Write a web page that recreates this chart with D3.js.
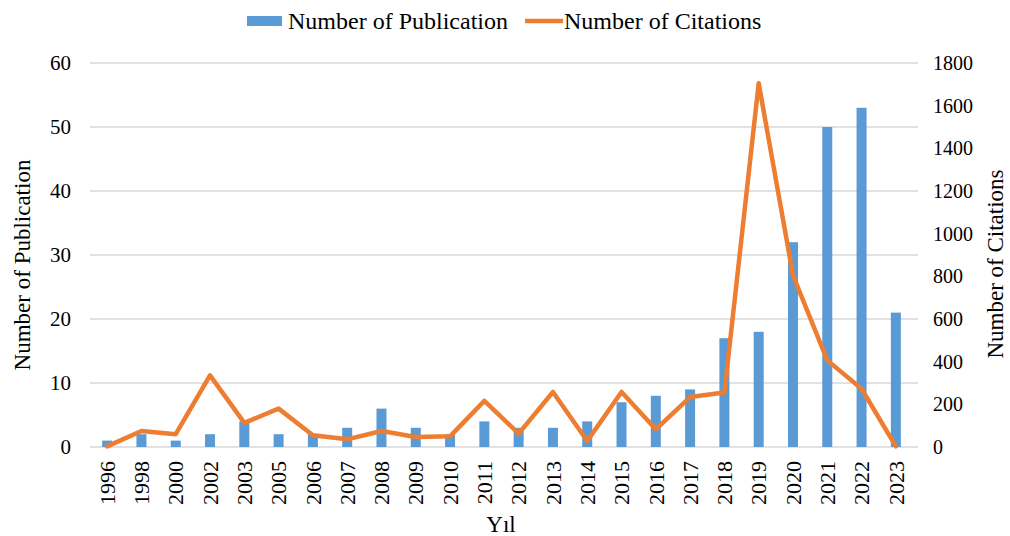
<!DOCTYPE html>
<html><head><meta charset="utf-8">
<script src="https://cdn.jsdelivr.net/npm/d3@7"></script>
<style>body{margin:0;background:#fff}text{font-family:"Liberation Serif","Times New Roman",serif;fill:#000}</style>
</head><body><svg id="c" width="1010" height="536"></svg>
<script>
const years = ["1996","1998","2000","2002","2003","2005","2006","2007","2008","2009","2010","2011","2012","2013","2014","2015","2016","2017","2018","2019","2020","2021","2022","2023"];
const publications = [1,2,1,2,4,2,2,3,6,3,2,4,3,3,4,7,8,9,17,18,32,50,53,21];
const citations = [3,75,60,336,113,180,55,36,75,47,50,216,63,258,28,258,83,234,255,1705,805,406,273,3];
const leftTicks = [0,10,20,30,40,50,60];
const rightTicks = [0,200,400,600,800,1000,1200,1400,1600,1800];

const svg = d3.select("#c");
const L = 90, R = 913, T = 63, B = 447;
const x = d3.scaleBand().domain(years).range([L, R]);
const yL = d3.scaleLinear().domain([0,60]).range([B, T]);
const yR = d3.scaleLinear().domain([0,1800]).range([B, T]);

// gridlines
svg.append("g").selectAll("line").data(leftTicks).join("line")
  .attr("x1", L).attr("x2", R+5).attr("y1", d=>yL(d)).attr("y2", d=>yL(d))
  .attr("stroke", "#d9d9d9").attr("stroke-width", 1.5);

// left axis
const gl = svg.append("g").attr("transform", `translate(${L},0)`)
  .call(d3.axisLeft(yL).tickValues(leftTicks).tickSize(0).tickPadding(19));
gl.select(".domain").remove();
gl.selectAll("text").style("font-size","21px").style("font-family","Liberation Serif");

// right axis
const gr = svg.append("g").attr("transform", `translate(${R},0)`)
  .call(d3.axisRight(yR).tickValues(rightTicks).tickFormat(d3.format("d")).tickSize(0).tickPadding(20));
gr.select(".domain").remove();
gr.selectAll("text").style("font-size","20px").style("font-family","Liberation Serif");

// x axis
const gx = svg.append("g").attr("transform", `translate(0,${B})`)
  .call(d3.axisBottom(x).tickSize(0).tickPadding(0));
gx.select(".domain").remove();
gx.selectAll("text").style("font-size","22px").style("font-family","Liberation Serif")
  .attr("transform","rotate(-90)").attr("text-anchor","end")
  .attr("x",-14).attr("y",0).attr("dy","0.35em");

// bars
const bw = 10;
svg.append("g").selectAll("rect").data(years).join("rect")
  .attr("x", d=>x(d)+x.bandwidth()/2-bw/2).attr("width", bw)
  .attr("y", (d,i)=>yL(publications[i])).attr("height", (d,i)=>B-yL(publications[i]))
  .attr("fill","#5b9bd5");

// line
const line = d3.line().x((d,i)=>x(years[i])+x.bandwidth()/2).y(d=>yR(d));
svg.append("path").datum(citations).attr("d", line)
  .attr("fill","none").attr("stroke","#ed7d31").attr("stroke-width",4.5)
  .attr("stroke-linejoin","round").attr("stroke-linecap","round");

// axis titles
svg.append("text").attr("transform","translate(30,265) rotate(-90)").attr("text-anchor","middle")
  .style("font-size","23px").text("Number of Publication");
svg.append("text").attr("transform","translate(1003,264) rotate(-90)").attr("text-anchor","middle")
  .style("font-size","23px").text("Number of Citations");
svg.append("text").attr("x", 501).attr("y", 532).attr("text-anchor","middle")
  .style("font-size","23px").text("Yıl");

// legend
const lg = svg.append("g");
lg.append("rect").attr("x",247).attr("y",16).attr("width",35).attr("height",10).attr("fill","#5b9bd5");
lg.append("text").attr("x",288).attr("y",29).style("font-size","24px").text("Number of Publication");
lg.append("line").attr("x1",525).attr("x2",563).attr("y1",21).attr("y2",21).attr("stroke","#ed7d31").attr("stroke-width",4.5);
lg.append("text").attr("x",564).attr("y",29).style("font-size","24px").text("Number of Citations");
</script></body></html>
